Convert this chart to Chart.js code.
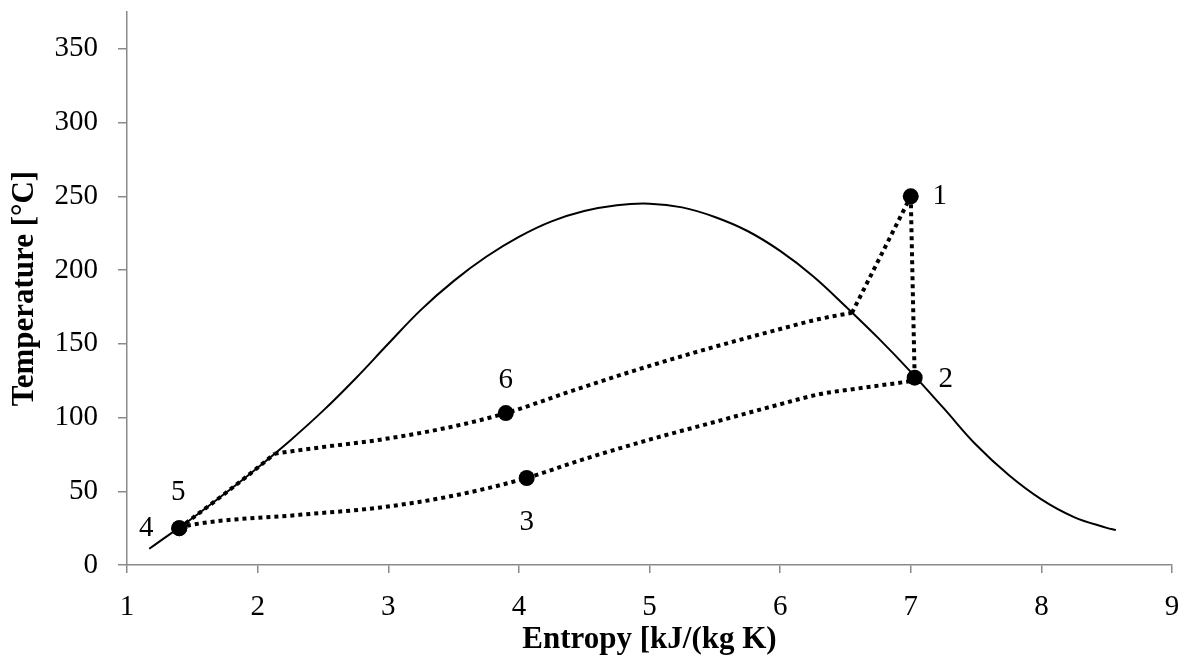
<!DOCTYPE html>
<html>
<head>
<meta charset="utf-8">
<script src="https://cdn.jsdelivr.net/npm/chart.js@4.4.1/dist/chart.umd.min.js"></script>
<style>
  html, body { margin: 0; padding: 0; background: #fff; }
  canvas { display: block; }
</style>
</head>
<body>
<canvas id="c" width="1189" height="661"></canvas>
<script>
// Saturation dome (entropy kJ/(kg K), temperature °C)
const domeS = [1.17, 1.25, 1.5, 1.75, 2.0, 2.25, 2.5, 2.75, 3.0, 3.25, 3.5, 3.75, 4.0, 4.25, 4.5, 4.75,
               5.0, 5.25, 5.5, 5.75, 6.0, 6.25, 6.5, 6.75, 7.0, 7.25, 7.5, 7.75, 8.0, 8.25, 8.5, 8.57];
const domeT = [11, 16, 31.7, 48.5, 66, 84.5, 104.5, 126.5, 150, 173, 192.5, 209, 222.5, 233, 240, 244,
               245, 242.5, 236, 226.5, 213, 196, 175.5, 154, 131, 106.5, 81.5, 61, 44.5, 32.5, 25.2, 23.7];

// Cycle paths (dotted)
const seg54S = [1.4, 1.75, 2.0, 2.13];
const seg54T = [25, 48.5, 66, 75.5];
const upperS = [2.13, 2.5, 2.94, 3.5, 3.9, 4.47, 5.0, 5.5, 6.0, 6.31, 6.55];
const upperT = [75.5, 80, 85, 94, 103, 120, 135, 148, 160, 167, 171];
const riseS = [6.55, 7.0];
const riseT = [171, 250];
const dropS = [7.0, 7.03];
const dropT = [250, 127];
const lowerS = [1.4, 1.48, 2.32, 2.94, 3.5, 4.06, 4.47, 5.0, 5.5, 6.0, 6.31, 6.54, 7.03];
const lowerT = [25, 27, 34, 39, 47, 59, 71, 85, 97, 109, 116, 119, 125];

// State points
const stateLabels = ['1', '2', '3', '4', '5', '6'];
const stateS = [7.0, 7.03, 4.06, 1.4, 1.4, 3.9];
const stateT = [250, 127, 59, 25, 25, 103];

const xTitle = 'Entropy [kJ/(kg K)';
const yTitle = 'Temperature [°C]';

const pts = (xs, ys) => xs.map((x, i) => ({x: x, y: ys[i]}));

const dotted = {
  showLine: true, borderColor: '#000', borderWidth: 4, borderDash: [4, 4],
  borderCapStyle: 'butt', pointRadius: 0, fill: false
};

const labelOffsets = {'1': [29, 0], '2': [31, 2], '3': [0, 44], '4': [-33, 0], '5': [-1, -36], '6': [0, -33]};

const labelPlugin = {
  id: 'stateLabels',
  afterDatasetsDraw(chart) {
    const {ctx, scales: {x, y}} = chart;
    ctx.save();
    ctx.font = '29px "Liberation Serif"';
    ctx.fillStyle = '#000';
    ctx.textAlign = 'center';
    ctx.textBaseline = 'middle';
    stateLabels.forEach((lab, i) => {
      const off = labelOffsets[lab];
      ctx.fillText(lab, x.getPixelForValue(stateS[i]) + off[0], y.getPixelForValue(stateT[i]) + off[1]);
    });
    ctx.restore();
  }
};

const axisGrey = '#8a8a8a';

new Chart(document.getElementById('c'), {
  type: 'scatter',
  data: {
    datasets: [
      { data: pts(domeS, domeT), showLine: true, borderColor: '#000', borderWidth: 2,
        pointRadius: 0, tension: 0.4, fill: false },
      Object.assign({ data: pts(seg54S, seg54T), tension: 0.4, cubicInterpolationMode: 'monotone' }, dotted),
      Object.assign({ data: pts(upperS, upperT), tension: 0.4, cubicInterpolationMode: 'monotone' }, dotted),
      Object.assign({ data: pts(riseS, riseT) }, dotted),
      Object.assign({ data: pts(dropS, dropT) }, dotted),
      Object.assign({ data: pts(lowerS, lowerT), tension: 0.4, cubicInterpolationMode: 'monotone' }, dotted),
      { data: pts(stateS, stateT), showLine: false, pointRadius: 8, pointBackgroundColor: '#000',
        pointBorderColor: '#000', pointBorderWidth: 0 }
    ]
  },
  options: {
    responsive: false,
    animation: false,
    layout: { padding: { top: 12, right: 17, left: 0, bottom: 0 } },
    plugins: { legend: { display: false }, tooltip: { enabled: false } },
    scales: {
      x: {
        type: 'linear', min: 1, max: 9,
        ticks: { stepSize: 1, color: '#000', font: { family: 'Liberation Serif', size: 29 }, padding: 17 },
        grid: { drawOnChartArea: false, drawTicks: true, tickLength: 8, color: axisGrey, lineWidth: 1.5 },
        border: { color: axisGrey, width: 1.5 },
        title: { display: true, text: xTitle, color: '#000',
          font: { family: 'Liberation Serif', size: 31, weight: 'bold' }, padding: { top: 0, bottom: 2 } },
        afterFit(scale) { scale.height = 96; scale.paddingLeft = 0; scale.paddingRight = 0; }
      },
      y: {
        type: 'linear', min: 0, max: 375,
        ticks: { stepSize: 50, color: '#000', font: { family: 'Liberation Serif', size: 29 }, padding: 20 },
        afterBuildTicks(scale) { scale.ticks = scale.ticks.filter(t => t.value % 50 === 0); },
        grid: { drawOnChartArea: false, drawTicks: true, tickLength: 9, color: axisGrey, lineWidth: 1.5 },
        border: { color: axisGrey, width: 1.5 },
        title: { display: true, text: yTitle, color: '#000',
          font: { family: 'Liberation Serif', size: 31, weight: 'bold' }, padding: { top: 6, bottom: 0 } },
        afterFit(scale) { scale.width = 127; scale.paddingTop = 0; scale.paddingBottom = 0; }
      }
    }
  },
  plugins: [labelPlugin]
});
</script>
</body>
</html>
